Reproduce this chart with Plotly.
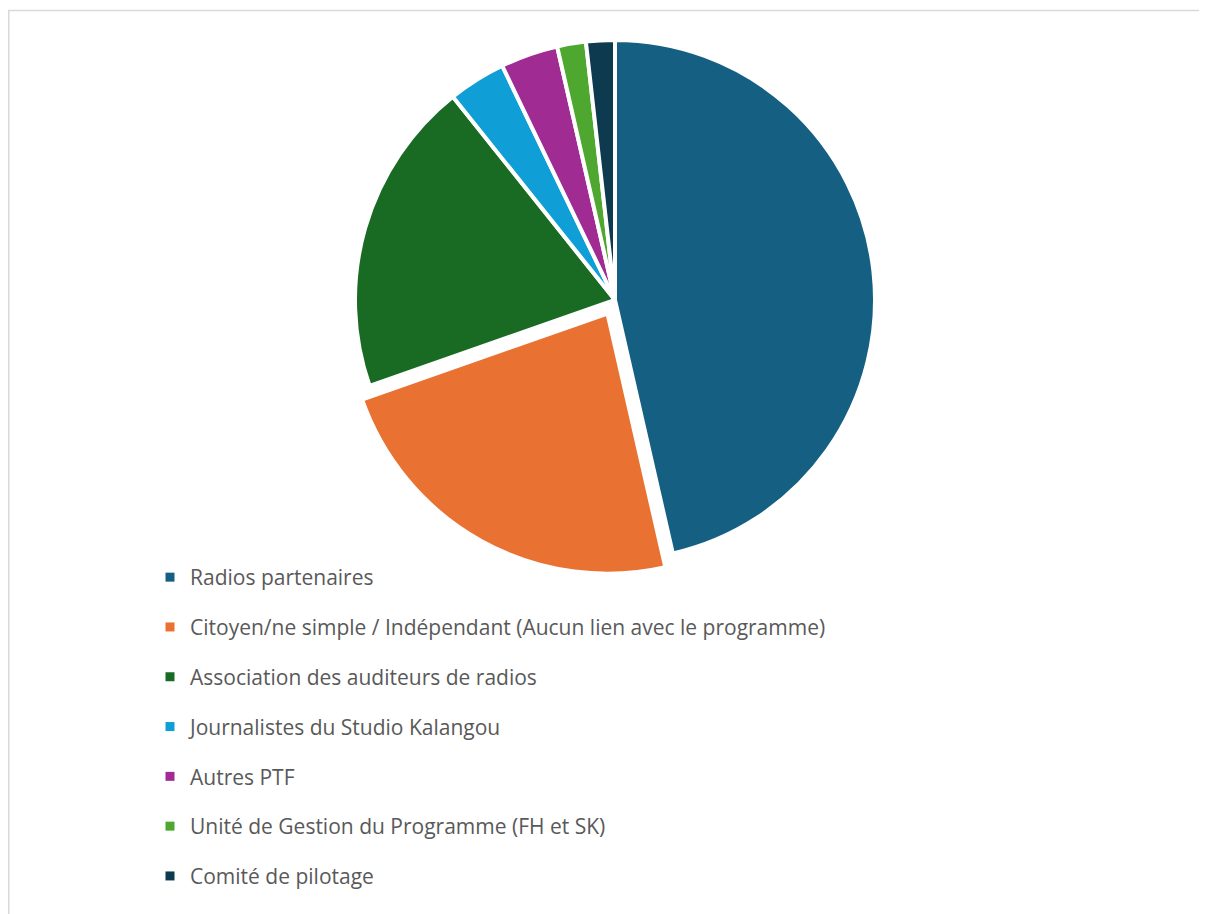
import plotly.graph_objects as go

labels = [
    "Radios partenaires",
    "Citoyen/ne simple / Indépendant (Aucun lien avec le programme)",
    "Association des auditeurs de radios",
    "Journalistes du Studio Kalangou",
    "Autres PTF",
    "Unité de Gestion du Programme (FH et SK)",
    "Comité de pilotage",
]
values = [26, 13, 11, 2, 2, 1, 1]
colors = ["#156082", "#E97132", "#196B24", "#0F9ED5", "#A02B93", "#4EA72E", "#0D3A4E"]
pulls = [0, 0.06, 0, 0, 0, 0, 0]

W, H = 1207, 914
OFF = 8  # page body margin
cx, cy, r = 615 - OFF, 300 - OFF, 260
half = r * 1.06

fig = go.Figure()
fig.add_trace(go.Pie(
    labels=labels, values=values, sort=False, direction="clockwise", rotation=0,
    marker=dict(colors=colors, line=dict(color="white", width=4)),
    pull=pulls, textinfo="none", hoverinfo="label+value+percent",
    showlegend=False,
    domain=dict(x=[(cx - half) / W, (cx + half) / W], y=[1 - (cy + half) / H, 1 - (cy - half) / H]),
))

for i, (lab, col) in enumerate(zip(labels, colors)):
    fig.add_trace(go.Scatter(
        x=[None], y=[None], mode="markers", name=lab, legendgroup=f"g{i}",
        marker=dict(symbol="square", size=9, color=col),
    ))

fig.update_layout(
    width=W, height=H,
    margin=dict(l=0, r=0, t=0, b=0),
    paper_bgcolor="white", plot_bgcolor="white",
    xaxis=dict(visible=False), yaxis=dict(visible=False),
    showlegend=True,
    legend=dict(
        x=142 / W, y=1 - 549 / H, xanchor="left", yanchor="top",
        bgcolor="rgba(0,0,0,0)",
        traceorder="grouped", tracegroupgap=19.5,
        font=dict(family="Open Sans", size=21, color="#595959"),
        itemclick=False, itemdoubleclick=False,
    ),
    shapes=[
        dict(type="line", xref="paper", yref="paper", x0=0, x1=1, y0=1 - 2.5 / H, y1=1 - 2.5 / H,
             line=dict(color="#D9D9D9", width=1.5)),
        dict(type="line", xref="paper", yref="paper", x0=0.75 / W, x1=0.75 / W, y0=0, y1=1 - 2 / H,
             line=dict(color="#D9D9D9", width=1.5)),
    ],
)

fig.write_html("out.html")
